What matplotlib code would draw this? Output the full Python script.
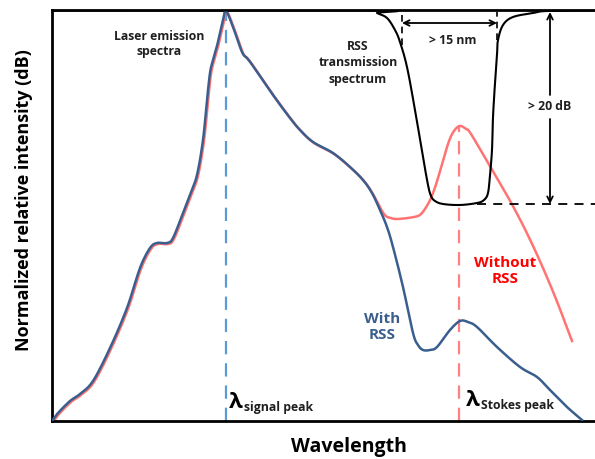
import numpy as np
import matplotlib
matplotlib.use("Agg")
import matplotlib.pyplot as plt

plt.rcParams['font.family'] = ['Open Sans', 'DejaVu Sans']

# curves (x: wavelength units, y: relative intensity, 0 = bottom)
# rising part + main peak, shared by both spectra
common_x = [52, 58, 70, 80, 93, 110, 127, 140, 150, 157, 167, 173, 183, 190, 197,
            203, 207, 210, 213, 217, 223, 226, 233, 242, 247, 253, 273, 290,
            300, 313, 333, 350, 363, 372]
common_y = [0, 8, 20, 27, 40, 73, 113, 153, 173, 178, 178, 183, 208, 226, 246,
            281, 321, 348, 361, 375, 401, 410, 394, 369, 363, 355, 326, 303,
            291, 279, 268, 254, 241, 228]

# with RSS: tail after the split
with_x = [380, 387, 393, 403, 413, 418, 423, 430, 437, 450, 460, 468, 477, 497,
          520, 537, 550, 567, 582]
with_y = [211, 194, 174, 134, 88, 76, 71, 71, 74, 91, 100, 99, 94, 74,
          54, 44, 31, 14, 1]

# without RSS: tail after the split
without_x = [383, 390, 397, 413, 420, 427, 432, 437, 447, 453, 459, 465, 470,
             490, 513, 533, 553, 571]
without_y = [208, 204, 203, 205, 208, 218, 229, 244, 278, 291, 296, 293, 288,
             254, 214, 174, 128, 81]

# RSS transmission spectrum (notch filter)
rss_x = [52, 373, 377, 387, 395, 400, 407, 415, 423, 428, 431, 435, 443, 460,
         477, 484, 488, 490, 492, 493, 495, 497, 498, 503, 513, 533, 547, 595]
rss_y = [410.5, 410.5, 408, 403, 391, 379, 354, 311, 264, 236, 225, 220, 217,
         216, 218, 221, 228, 246, 271, 304, 338, 366, 381, 396, 404, 408, 410, 410.5]

signal_peak = 226
stokes_peak = 459

blue = '#3A5F8E'
red = '#FF7373'


# smooth drawing through the read points (Catmull-Rom)
def smooth(xs, ys, n=12):
    p = np.column_stack([xs, ys]).astype(float)
    p = np.vstack([p[0], p, p[-1]])
    out = []
    for i in range(1, len(p) - 2):
        p0, p1, p2, p3 = p[i - 1], p[i], p[i + 1], p[i + 2]
        t = np.linspace(0, 1, n, endpoint=False)[:, None]
        seg = 0.5 * ((2 * p1) + (-p0 + p2) * t
                     + (2 * p0 - 5 * p1 + 4 * p2 - p3) * t ** 2
                     + (-p0 + 3 * p1 - 3 * p2 + p3) * t ** 3)
        out.append(seg)
    out.append(p[-2][None, :])
    out = np.vstack(out)
    return out[:, 0], out[:, 1]


fig = plt.figure(figsize=(5.95, 4.59), dpi=100)
ax = fig.add_axes([52 / 595, 1 - 421 / 459, 543 / 595, 411 / 459])
ax.set_xlim(52, 595)
ax.set_ylim(0, 411)

# peak markers
ax.axvline(signal_peak, color='#5B9BD5', lw=1.6, ls=(0, (6, 4)), zorder=1)
ax.plot([stokes_peak, stokes_peak], [0, 296], color='#FF8080', lw=1.6,
        ls=(0, (6, 4)), zorder=1)

# spectra
rx, ry = smooth(common_x + without_x, common_y + without_y)
ax.plot(rx + 1, ry - 1, color=red, lw=1.8, zorder=2)
bx, by = smooth(common_x + with_x, common_y + with_y)
ax.plot(bx, by, color=blue, lw=1.8, zorder=3)
kx, ky = smooth(rss_x, rss_y)
ax.plot(kx, ky, color='black', lw=1.5, zorder=4)

# annotation lines
ax.plot([477, 595], [217, 217], color='black', lw=1.3, ls=(0, (5, 4)))
ax.plot([402, 402], [376, 409], color='black', lw=1.2, ls=(0, (4, 3)))
ax.plot([497, 497], [381, 409], color='black', lw=1.2, ls=(0, (4, 3)))
ax.annotate('', xy=(402, 398), xytext=(497, 398),
            arrowprops=dict(arrowstyle='<->', color='black', lw=1.3,
                            shrinkA=0, shrinkB=0))
ax.annotate('', xy=(550, 409), xytext=(550, 326),
            arrowprops=dict(arrowstyle='->', color='black', lw=1.3,
                            shrinkA=0, shrinkB=0))
ax.annotate('', xy=(550, 217), xytext=(550, 302),
            arrowprops=dict(arrowstyle='->', color='black', lw=1.3,
                            shrinkA=0, shrinkB=0))

txt = '#1F1F1F'
ax.text(159, 377, 'Laser emission\nspectra', ha='center', va='center',
        fontsize=8.8, fontweight='bold', color=txt, linespacing=1.3)
ax.text(358, 358, 'RSS\ntransmission\nspectrum', ha='center', va='center',
        fontsize=8.8, fontweight='bold', color=txt, linespacing=1.3)
ax.text(453, 381, '> 15 nm', ha='center', va='center', fontsize=8.8,
        fontweight='bold', color=txt)
ax.text(550, 314, '> 20 dB', ha='center', va='center', fontsize=8.8,
        fontweight='bold', color=txt)
ax.text(505, 150, 'Without\nRSS', ha='center', va='center', fontsize=11,
        fontweight='bold', color='#FF0000', linespacing=1.2)
ax.text(382, 94, 'With\nRSS', ha='center', va='center', fontsize=11,
        fontweight='bold', color=blue, linespacing=1.2)

lam1 = ax.text(229, 13, 'λ', ha='left', va='baseline', fontsize=16,
               fontweight='bold', color='black')
ax.annotate('signal peak', xy=(1, 0), xycoords=lam1, xytext=(1, -1),
            textcoords='offset points', ha='left', va='bottom', fontsize=8.8,
            fontweight='bold', color=txt)
lam2 = ax.text(466, 15, 'λ', ha='left', va='baseline', fontsize=16,
               fontweight='bold', color='black')
ax.annotate('Stokes peak', xy=(1, 0), xycoords=lam2, xytext=(1, -1),
            textcoords='offset points', ha='left', va='bottom', fontsize=8.8,
            fontweight='bold', color=txt)

ax.set_xticks([])
ax.set_yticks([])
for side in ['left', 'bottom', 'top']:
    ax.spines[side].set_linewidth(2)
    ax.spines[side].set_color('black')
ax.spines['right'].set_visible(False)

fig.text(349 / 595, 1 - 447 / 459, 'Wavelength', ha='center', va='center',
         fontsize=14, fontweight='bold')
fig.text(24 / 595, 1 - 200 / 459, 'Normalized relative intensity (dB)',
         ha='center', va='center', rotation=90, fontsize=13, fontweight='bold')

fig.savefig('out.png', dpi=100)
